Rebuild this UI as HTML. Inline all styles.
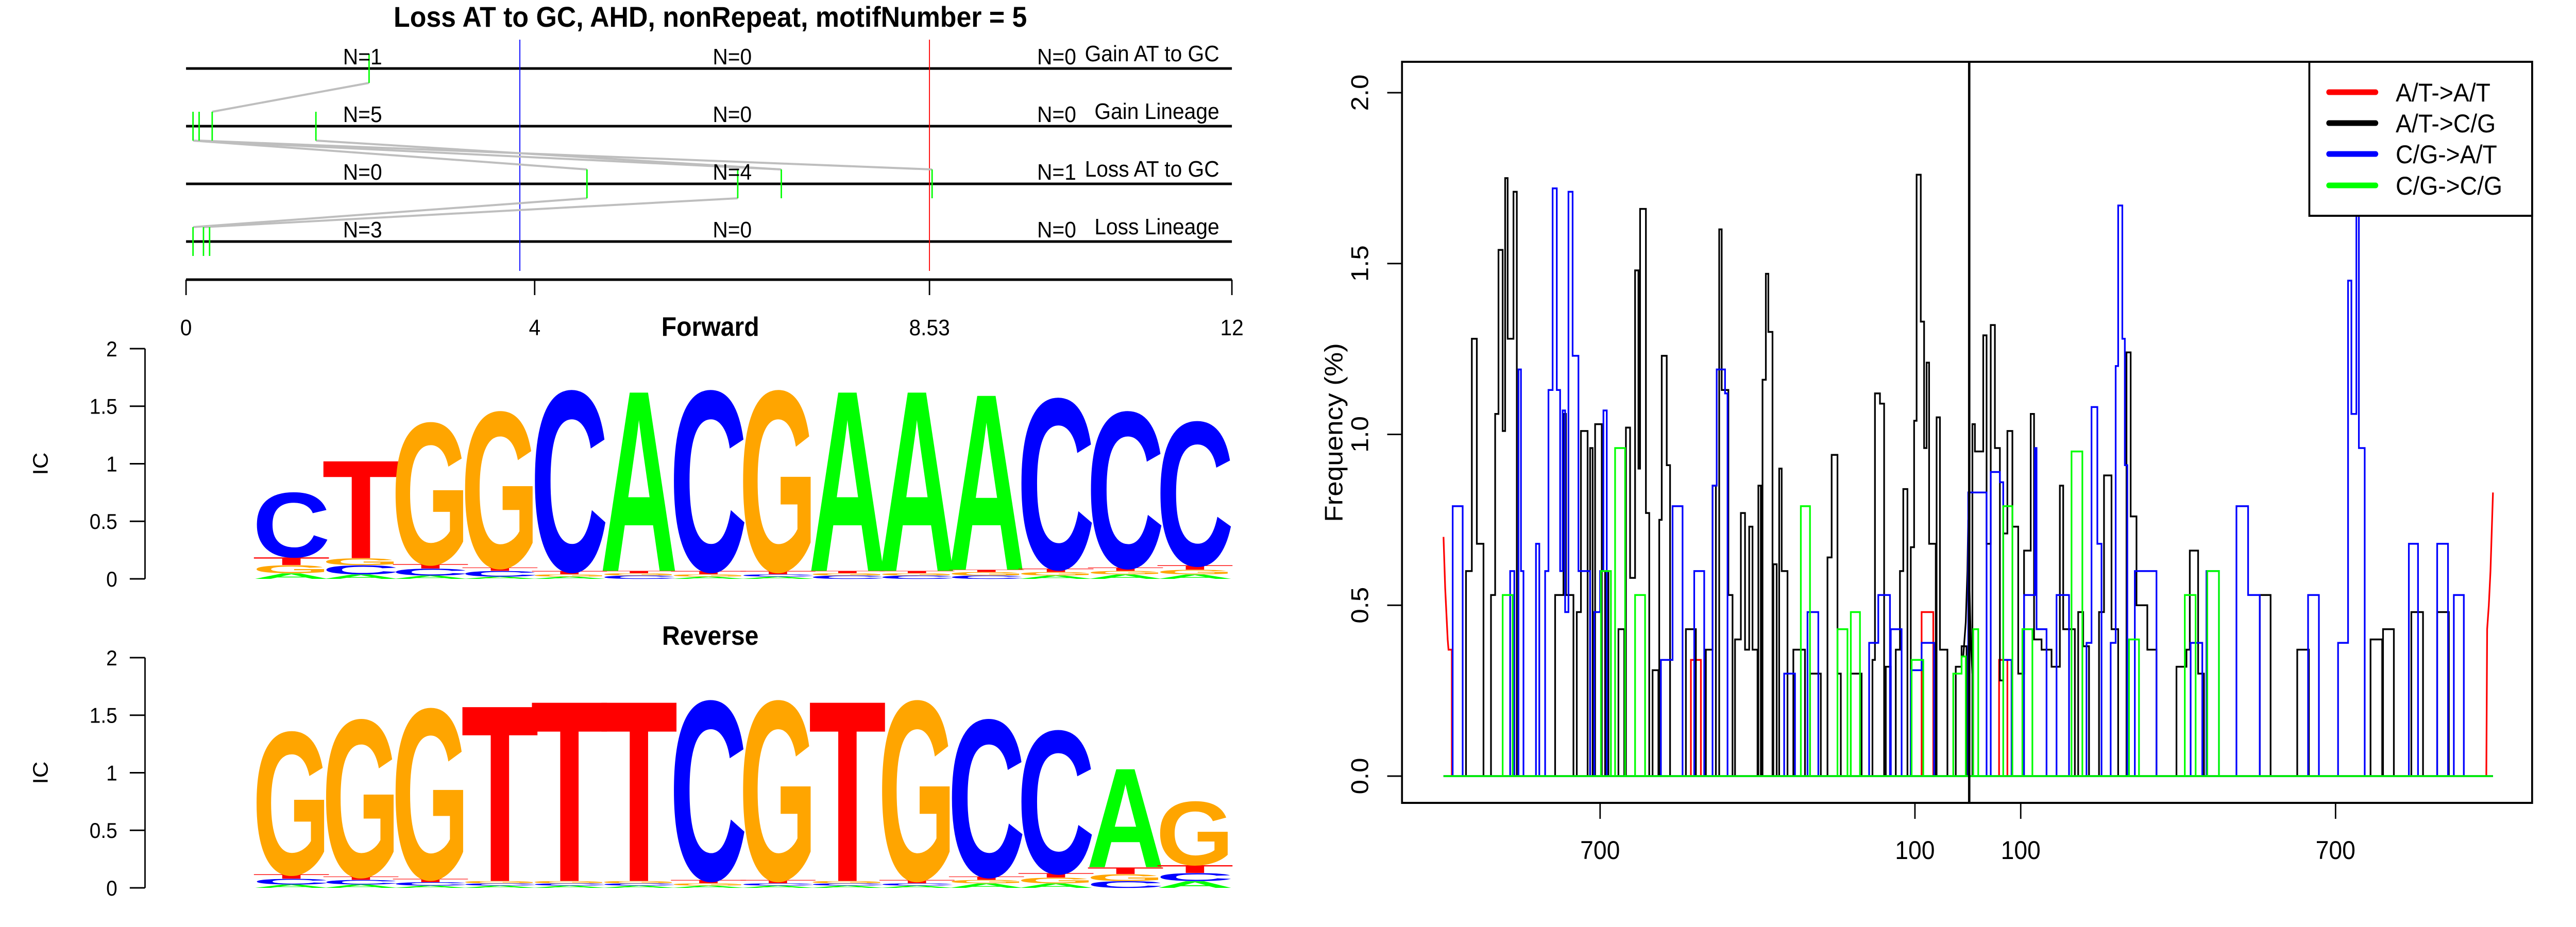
<!DOCTYPE html>
<html><head><meta charset="utf-8">
<style>
html,body{margin:0;padding:0;background:#fff;width:100%;height:100%;overflow:hidden;}
svg{display:block;position:absolute;left:0;top:0;width:100vw;height:100vh;font-family:"Liberation Sans",Arial,sans-serif;}
</style></head>
<body>
<svg id="root" viewBox="0 0 5400 1800" preserveAspectRatio="none" xmlns="http://www.w3.org/2000/svg">
<rect x="0" y="0" width="5400" height="1800" fill="#fff"/>
<g id="header"></g>
<g id="logoF"></g>
<g id="logoR"></g>
<g id="freq"></g>
</svg>
<script>
// ===== Header panel data =====
const headerTitle = "Loss AT to GC, AHD, nonRepeat, motifNumber = 5";
const rowNames = ["Gain AT to GC","Gain Lineage","Loss AT to GC","Loss Lineage"];
const rowCountsA = [1,5,0,3];
const rowCountsB = [0,0,4,0];
const rowCountsC = [0,0,1,0];
const hdrTicks = [0,4,8.53,12];
const hdrTickLabels = ["0","4","8.53","12"];
const blueLinePos = 3.83;
const redLinePos = 8.53;
const siteRow = [0,1,1,1,1,2,2,2,2,3,3,3];
const sitePos = [2.10,0.08,0.15,0.30,1.49,4.60,6.33,6.83,8.56,0.08,0.20,0.27];
const linkFromRow = [0,1,1,1,1,2,2];
const linkFromPos = [2.10,0.08,0.08,0.15,1.49,4.60,6.33];
const linkToPos = [0.30,4.60,6.83,8.56,6.83,0.08,0.20];

// ===== Logo data =====
const fwdStacks = [
 "A:.05,G:.07,T:.07,C:.58","A:.04,C:.08,G:.06,T:.88","A:.03,C:.06,T:.04,G:1.27","A:.02,C:.05,T:.03,G:1.40",
 "A:.02,G:.02,T:.03,C:1.62","C:.03,G:.02,T:.02,A:1.62","A:.02,G:.02,T:.03,C:1.62","A:.02,C:.02,T:.03,G:1.62",
 "C:.03,G:.02,T:.02,A:1.62","C:.03,G:.02,T:.02,A:1.62","C:.03,G:.03,T:.02,A:1.58","A:.03,G:.03,T:.03,C:1.53",
 "A:.04,G:.03,T:.03,C:1.40","A:.04,G:.04,T:.04,C:1.29"];
const revStacks = [
 "A:.03,C:.05,T:.04,G:1.28","A:.03,C:.04,T:.03,G:1.41","A:.02,C:.03,T:.03,G:1.53","A:.02,C:.02,G:.02,T:1.58",
 "A:.02,C:.02,G:.02,T:1.62","A:.02,C:.02,G:.02,T:1.62","A:.02,G:.02,T:.03,C:1.61","A:.02,C:.02,T:.03,G:1.61",
 "A:.02,C:.02,G:.02,T:1.62","A:.02,C:.02,T:.03,G:1.61","A:.04,G:.03,T:.03,C:1.41","A:.04,G:.05,T:.04,C:1.28",
 "C:.06,G:.06,T:.06,A:.89","A:.06,C:.07,T:.07,G:.57"];
const logoTicks = [0,0.5,1,1.5,2];
const logoTickLabels = ["0","0.5","1","1.5","2"];

// ===== Frequency chart data (x in bin units) =====
const blackStart = [217,224,230,247,252,256,261,264,267,274,324,334,337,350,355,366,372,384,400,409,414,420,424,426,433,441,449,452,458,481,505,513,521,524,532,540,547,552,557,561,568,573,577,580,586,593,596,610,630,651,656,663,679,705,708,714,721,733,738,742,751,755,758,763,767,770,773,782,786,805,812,825,828,838,842,847,852,858,862,867,873,880,887,895,899,908,920,930,934,952,958,977,983,992,1010,1015,1022,1035,1070,1082,1086,1096,1170,1215,1303,1318,1352,1383];
const blackEnd   = [224,230,238,252,256,261,264,267,274,278,334,337,346,355,363,369,380,388,407,414,420,424,426,433,437,448,452,458,462,493,513,517,524,532,537,547,552,557,561,567,571,577,580,585,590,596,603,624,643,656,663,667,692,708,714,719,727,738,742,747,755,758,763,767,770,773,781,786,795,812,818,828,838,842,847,852,858,862,867,873,880,887,895,899,908,920,930,934,948,958,965,983,992,1000,1015,1022,1035,1046,1082,1086,1096,1103,1183,1229,1317,1331,1366,1397];
const blackVal   = [0.60,1.28,0.68,0.53,1.06,1.54,1.01,1.75,1.28,1.71,0.53,1.06,0.53,0.48,1.01,0.96,1.03,0.60,0.43,1.02,0.58,1.48,0.90,1.66,0.77,0.31,0.75,1.23,0.91,0.43,0.37,0.85,1.60,1.13,0.53,0.40,0.77,0.37,0.73,0.37,0.85,1.16,1.47,1.30,0.62,0.90,0.60,0.37,0.30,0.64,0.94,0.30,0.30,0.34,1.12,1.09,0.32,0.37,0.60,0.84,0.67,1.04,1.76,1.33,0.96,1.21,0.68,1.05,0.37,0.32,0.38,1.03,0.95,1.29,0.68,1.32,0.96,0.28,0.71,1.01,0.73,0.30,0.66,1.06,0.40,0.37,0.32,0.85,0.43,0.48,0.38,0.48,0.88,0.43,1.24,0.76,0.50,0.37,0.32,0.37,0.66,0.30,0.53,0.37,0.40,0.43,0.48,0.48];
const blueStart = [201,270,280,283,301,312,316,321,326,330,333,336,340,345,352,371,378,382,451,465,491,513,518,528,599,627,701,712,727,751,764,820,847,858,862,887,900,902,926,962,968,975,991,997,1000,1005,1008,1020,1087,1106,1142,1156,1228,1264,1276,1280,1286,1289,1349,1383,1403];
const blueEnd   = [213,275,283,286,305,316,321,326,330,333,336,340,345,352,366,378,382,386,465,477,503,518,528,531,612,640,712,726,740,764,779,842,858,862,872,900,902,914,941,968,975,980,997,1000,1005,1008,1011,1046,1101,1121,1156,1170,1241,1276,1280,1286,1289,1296,1360,1396,1415];
const blueVal   = [0.79,0.60,1.19,0.60,0.68,0.60,1.13,1.72,1.13,0.60,1.07,0.48,1.71,1.23,0.60,0.48,0.60,1.07,0.34,0.79,0.60,0.85,1.19,1.12,0.30,0.48,0.39,0.53,0.43,0.31,0.39,0.83,0.89,0.86,0.34,0.53,0.96,0.43,0.53,0.39,1.08,0.68,0.39,1.20,1.67,1.28,0.91,0.60,0.39,0.60,0.79,0.53,0.53,0.39,1.45,1.06,2.01,0.96,0.68,0.68,0.53];
const greenStart = [261,379,396,420,619,663,679,752,802,812,826,862,885,944,1013,1080,1107];
const greenEnd   = [273,391,408,432,630,675,690,766,812,817,832,873,897,957,1025,1093,1121];
const greenVal   = [0.53,0.60,0.96,0.53,0.79,0.43,0.48,0.34,0.30,0.35,0.43,0.79,0.43,0.95,0.40,0.53,0.60];
const redStart = [487,764,857];
const redEnd   = [499,778,867];
const redVal   = [0.34,0.48,0.34];
const redLeftX = [190,192,195,196,200,200];
const redLeftY = [0.70,0.55,0.40,0.37,0.37,0];
const redRightX = [1442,1443,1445,1447,1450];
const redRightY = [0,0.43,0.50,0.60,0.83];
const blackCurveX = [814,817,819,820,821,823,825];
const blackCurveY = [0.35,0.45,0.60,0.75,0.60,0.40,0.30];
const xTickBins = [378,756,883,1261];
const xTickLabels = ["700","100","100","700"];
const yTicks = [0,0.5,1,1.5,2];
const yTickLabels = ["0.0","0.5","1.0","1.5","2.0"];
const legendLabels = ["A/T->A/T","A/T->C/G","C/G->A/T","C/G->C/G"];
const legendColors = ["#ff0000","#000000","#0000ff","#00ff00"];

const NS = "http://www.w3.org/2000/svg";
function mk(tag, attrs, parent, text){
  const e = document.createElementNS(NS, tag);
  for (const k in attrs) e.setAttribute(k, attrs[k]);
  if (text !== undefined) e.textContent = text;
  parent.appendChild(e);
  return e;
}

// ===== Header =====
(function(){
  const g = document.getElementById('header');
  const hx = v => 390 + v*182.7;
  const rowY = [133,245,357,469];
  let t = mk('text',{x:1489,y:52,'font-size':56,'font-weight':'bold','text-anchor':'middle'},g,headerTitle);
  
  
  rowY.forEach((y,i)=>{
    let l = mk('line',{x1:hx(0),x2:hx(12),y1:y,y2:y,stroke:'#000','stroke-width':5},g);
    
    
  });
  let bl = mk('line',{x1:hx(blueLinePos),x2:hx(blueLinePos),y1:77,y2:526,stroke:'#0000ff','stroke-width':2},g);
  
  
  let rl = mk('line',{x1:hx(redLinePos),x2:hx(redLinePos),y1:77,y2:526,stroke:'#ff0000','stroke-width':2},g);
  
  
  linkFromRow.forEach((r,i)=>{
    let l = mk('line',{x1:hx(linkFromPos[i]),y1:rowY[r]+28,x2:hx(linkToPos[i]),y2:rowY[r+1]-28,stroke:'#bebebe','stroke-width':4},g);
    
    
  });
  siteRow.forEach((r,i)=>{
    let l = mk('line',{x1:hx(sitePos[i]),x2:hx(sitePos[i]),y1:rowY[r]-28,y2:rowY[r]+28,stroke:'#00ff00','stroke-width':3},g);
    
    
  });
  rowY.forEach((y,i)=>{
    const vals=[rowCountsA[i],rowCountsB[i],rowCountsC[i]];
    [760,1535,2215].forEach((x,j)=>{
      let tt = mk('text',{x:x,y:y-8,'font-size':44,'text-anchor':'middle'},g,'N='+vals[j]);
      
      
    });
    let lab = mk('text',{x:2556,y:y-14,'font-size':44,'text-anchor':'end'},g,rowNames[i]);
    
    
  });
  let ax = mk('line',{x1:hx(0),x2:hx(12),y1:543,y2:543,stroke:'#000','stroke-width':5},g);
  
  
  hdrTicks.forEach((v,i)=>{
    let tk = mk('line',{x1:hx(v),x2:hx(v),y1:543,y2:573,stroke:'#000','stroke-width':3},g);
    
    
    let tl = mk('text',{x:hx(v),y:651,'font-size':44,'text-anchor':'middle'},g,hdrTickLabels[i]);
    
    
  });
})();

// ===== Logos =====
const letterColor = {A:'#00ff00',C:'#0000ff',G:'#ffa500',T:'#ff0000'};
function drawLogo(gid, stacks, title, titleY, y0){
  const g = document.getElementById(gid);
  const unit = 223.5;
  const yv = v => y0 - v*unit;
  const colX0 = 538, colW = 145.7;
  let tt = mk('text',{x:1489,y:titleY,'font-size':52,'font-weight':'bold','text-anchor':'middle'},g,title);
  
  
  let ax = mk('line',{x1:304,x2:304,y1:yv(0),y2:yv(2),stroke:'#000','stroke-width':3},g);
  
  
  logoTicks.forEach((v,i)=>{
    let tk = mk('line',{x1:272,x2:304,y1:yv(v),y2:yv(v),stroke:'#000','stroke-width':3},g);
    
    
    let tl = mk('text',{x:246,y:yv(v)+15,'font-size':42,'text-anchor':'end'},g,logoTickLabels[i]);
    
    
  });
  let ic = mk('text',{x:0,y:0,'font-size':44,'text-anchor':'middle',transform:'translate(100,'+yv(1)+') rotate(-90)'},g,'IC');
  
  
  stacks.forEach((s,ci)=>{
    let base = 0;
    s.split(',').forEach(p=>{
      const [ch,hs] = p.split(':');
      const h = parseFloat(hs);
      const x = colX0 + ci*colW;
      const sy = (h*unit)/72;
      const grp = mk('g',{transform:'translate('+(x-colW*0.06)+','+yv(base)+') scale(1,'+sy+')'},g);
      let lt = mk('text',{x:0,y:0,'font-size':100,'font-weight':'bold',fill:letterColor[ch],textLength:colW*1.12,lengthAdjust:'spacingAndGlyphs'},grp,ch);
      
      
      base += h;
    });
  });
}
drawLogo('logoF', fwdStacks, 'Forward', 652, 1124);
drawLogo('logoR', revStacks, 'Reverse', 1252, 1724);

// ===== Frequency chart =====
(function(){
  const g = document.getElementById('freq');
  const xs = b => 3026 + (b-190)*1.746;
  const ys = v => 1507 - v*663.5;
  let box = mk('rect',{x:2939,y:120,width:2369,height:1439,fill:'none',stroke:'#000','stroke-width':4},g);
  
  
  function steps(starts, ends, vals, color, name){
    let d = 'M'+xs(190)+','+ys(0)+' H'+xs(1450);
    let prevEnd = null;
    for (let i=0;i<starts.length;i++){
      if (prevEnd !== starts[i]) d += ' M'+xs(starts[i])+','+ys(0);
      d += ' V'+ys(vals[i])+' H'+xs(ends[i]);
      const nextStart = i+1<starts.length ? starts[i+1] : null;
      if (nextStart !== ends[i]) d += ' V'+ys(0);
      prevEnd = ends[i];
    }
    let p = mk('path',{d:d,fill:'none',stroke:color,'stroke-width':3.5},g);
    
    
  }
  function poly(xa, ya, color, name){
    let pts = xa.map((x,i)=>xs(x)+','+ys(ya[i])).join(' ');
    let p = mk('polyline',{points:pts,fill:'none',stroke:color,'stroke-width':3.5},g);
    
    
  }
  steps(redStart, redEnd, redVal, '#ff0000', 'series-at-to-at');
  poly(redLeftX, redLeftY, '#ff0000', 'series-at-to-at-edge-left');
  poly(redRightX, redRightY, '#ff0000', 'series-at-to-at-edge-right');
  steps(blackStart, blackEnd, blackVal, '#000000', 'series-at-to-cg');
  poly(blackCurveX, blackCurveY, '#000000', 'series-at-to-cg-center');
  steps(blueStart, blueEnd, blueVal, '#0000ff', 'series-cg-to-at');
  steps(greenStart, greenEnd, greenVal, '#00ff00', 'series-cg-to-cg');
  let cl = mk('line',{x1:4128,x2:4128,y1:120,y2:1559,stroke:'#000','stroke-width':5},g);
  
  
  yTicks.forEach((v,i)=>{
    let tk = mk('line',{x1:2908,x2:2939,y1:ys(v),y2:ys(v),stroke:'#000','stroke-width':3},g);
    
    
    let tl = mk('text',{x:0,y:0,'font-size':51,'text-anchor':'middle',transform:'translate(2868,'+ys(v)+') rotate(-90)'},g,yTickLabels[i]);
    
    
  });
  xTickBins.forEach((b,i)=>{
    let tk = mk('line',{x1:xs(b),x2:xs(b),y1:1559,y2:1590,stroke:'#000','stroke-width':3},g);
    
    
    let tl = mk('text',{x:xs(b),y:1668,'font-size':50,'text-anchor':'middle'},g,xTickLabels[i]);
    
    
  });
  let yl = mk('text',{x:0,y:0,'font-size':53,'text-anchor':'middle',transform:'translate(2814,840) rotate(-90)'},g,'Frequency (%)');
  
  
  let lg = mk('rect',{x:4841,y:120,width:467,height:299,fill:'#fff',stroke:'#000','stroke-width':4},g);
  
  
  const ly = [179,239,299,360];
  legendLabels.forEach((lab,i)=>{
    let ll = mk('line',{x1:4882,x2:4980,y1:ly[i],y2:ly[i],stroke:legendColors[i],'stroke-width':11,'stroke-linecap':'round'},g);
    
    
    let lt = mk('text',{x:5022,y:ly[i]+18,'font-size':50},g,lab);
    
    
  });
})();
</script>
</body></html>
